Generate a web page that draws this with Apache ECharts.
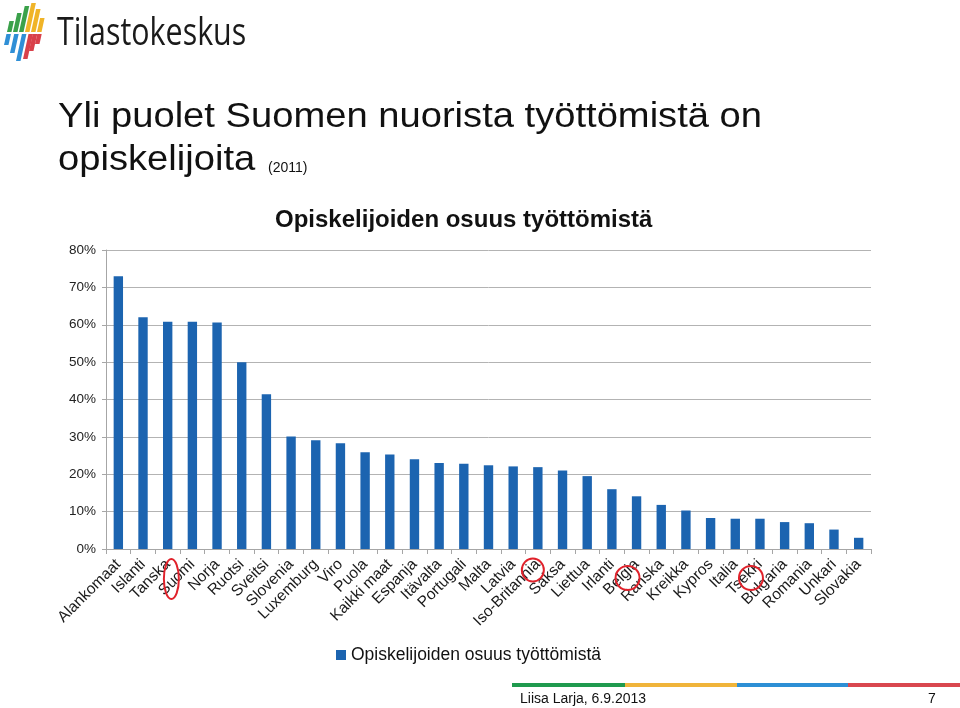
<!DOCTYPE html>
<html>
<head>
<meta charset="utf-8">
<script src="https://cdn.jsdelivr.net/npm/echarts@6/dist/echarts.min.js"></script>
<style>
html,body{margin:0;padding:0;background:#fff;}
#c{width:960px;height:708px;}
</style>
</head>
<body>
<div id="c"></div>
<script>
var categories = ['Alankomaat','Islanti','Tanska','Suomi','Norja','Ruotsi','Sveitsi','Slovenia','Luxemburg','Viro','Puola','Kaikki maat','Espanja','Itävalta','Portugali','Malta','Latvia','Iso-Britannia','Saksa','Liettua','Irlanti','Belgia','Ranska','Kreikka','Kypros','Italia','Tsekki','Bulgaria','Romania','Unkari','Slovakia'];
var shareValues = [73.0,62.0,60.8,60.8,60.6,50.0,41.4,30.1,29.1,28.3,25.9,25.3,24.0,23.0,22.8,22.4,22.1,21.9,21.0,19.5,16.0,14.1,11.8,10.3,8.3,8.1,8.1,7.2,6.9,5.2,3.0];
var yTicks = [0,10,20,30,40,50,60,70,80];
var seriesName = 'Opiskelijoiden osuus työttömistä';
var circled = ['Suomi','Iso-Britannia','Belgia','Tsekki'];

var chart = echarts.init(document.getElementById('c'), null, {renderer:'canvas'});

// logo strips (decoration)
function strip(x, yb, yt, w, color){
  var s = (yb - yt) * 0.22;
  return {type:'polygon', silent:true, shape:{points:[[x,yb],[x+w,yb],[x+w+s,yt],[x+s,yt]]}, style:{fill:color}};
}
var logo = [
  strip(7,32,21,4.5,'#3aa14a'), strip(13,32,13,4.5,'#3aa14a'), strip(19,32,6,4.5,'#3aa14a'),
  strip(25,32,3,4.5,'#f0b428'), strip(31,32,9,4.5,'#f0b428'), strip(37,32,18,4.5,'#f0b428'),
  strip(4,45,34,4.5,'#2f8fd6'), strip(10,53,34,4.5,'#2f8fd6'), strip(16,61,34,4.5,'#2f8fd6'),
  strip(23,59,34,4.5,'#d9414a'), strip(29,51,34,4.5,'#d9414a'), strip(35,44,34,4.5,'#d9414a')
];

var F = '"Liberation Sans", Arial, sans-serif';
var FN = '"Liberation Sans Narrow", "Arial Narrow", "Liberation Sans", sans-serif';
var graphics = logo.concat([
  {type:'text', silent:true, x:57, y:15, scaleX:0.8, style:{x:0, y:0, text:'Tilastokeskus', font:'38px "Open Sans", sans-serif', fill:'#1a1a1a', verticalAlign:'top'}},
  {type:'text', silent:true, x:58, y:100, scaleX:1.09, style:{x:0, y:0, text:'Yli puolet Suomen nuorista työttömistä on', font:'35px ' + F, fill:'#111', verticalAlign:'top'}},
  {type:'text', silent:true, x:58, y:143, scaleX:1.09, style:{x:0, y:0, text:'opiskelijoita', font:'35px ' + F, fill:'#111', verticalAlign:'top'}},
  {type:'text', silent:true, x:268, y:161, style:{x:0, y:0, text:'(2011)', font:'14px ' + F, fill:'#111', verticalAlign:'top'}},
  {type:'rect', silent:true, shape:{x:512, y:683, width:113, height:4}, style:{fill:'#1f9a4e'}},
  {type:'rect', silent:true, shape:{x:625, y:683, width:112, height:4}, style:{fill:'#f0b43a'}},
  {type:'rect', silent:true, shape:{x:737, y:683, width:111, height:4}, style:{fill:'#2d8fd5'}},
  {type:'rect', silent:true, shape:{x:848, y:683, width:112, height:4}, style:{fill:'#d9474f'}},
  {type:'text', silent:true, x:520, y:692, style:{x:0, y:0, text:'Liisa Larja, 6.9.2013', font:'14px ' + FN, fill:'#111', verticalAlign:'top'}},
  {type:'text', silent:true, x:928, y:692, style:{x:0, y:0, text:'7', font:'14px ' + FN, fill:'#111', verticalAlign:'top'}}
]);

var option = {
  animation:false,
  backgroundColor:'#fff',
  title:{
    text:seriesName, left:270, top:203,
    textStyle:{fontFamily:F, fontSize:24, fontWeight:'bold', color:'#111'}
  },
  legend:{
    data:[seriesName], left:331, top:641, itemWidth:10, itemHeight:10, icon:'rect',
    textStyle:{fontFamily:F, fontSize:17.5, color:'#111'}
  },
  grid:{left:106, right:89, top:250, bottom:159, containLabel:false},
  xAxis:{
    type:'category', data:categories,
    axisLine:{lineStyle:{color:'#a6a6a6', width:1}},
    axisTick:{show:true, length:5, lineStyle:{color:'#a6a6a6'}},
    axisLabel:{interval:0, rotate:45, margin:13, fontSize:15.5, color:'#1a1a1a', fontFamily:F}
  },
  yAxis:{
    type:'value', min:yTicks[0], max:yTicks[yTicks.length-1], interval:10,
    axisLine:{show:true, lineStyle:{color:'#a6a6a6'}},
    axisTick:{show:true, length:4, lineStyle:{color:'#a6a6a6'}},
    splitLine:{lineStyle:{color:'#b3b3b3', width:1}},
    axisLabel:{formatter:'{value}%', fontSize:13.5, color:'#222', margin:10, fontFamily:F}
  },
  series:[{
    name:seriesName, type:'bar', data:shareValues, barWidth:'38%',
    itemStyle:{color:'#1c64b0'}
  }],
  graphic:graphics
};
chart.setOption(option);

// red annotation circles around selected labels
var circleSpec = {'Suomi':{dx:-21, dy:30, rx:7.5, ry:20}, 'Iso-Britannia':{dx:-5, dy:21, rx:11, ry:11.5}, 'Belgia':{dx:-9, dy:29, rx:12, ry:12}, 'Tsekki':{dx:-9, dy:29, rx:12, ry:12}};
var extra = circled.map(function(name){
  var p = chart.convertToPixel({xAxisIndex:0, yAxisIndex:0}, [name, 0]);
  var c = circleSpec[name];
  return {type:'ellipse', silent:true, z:100, shape:{cx:p[0]+c.dx, cy:p[1]+c.dy, rx:c.rx, ry:c.ry}, style:{fill:null, stroke:'#e0222b', lineWidth:2}};
});
chart.setOption({graphic:graphics.concat(extra)});
</script>
</body>
</html>
